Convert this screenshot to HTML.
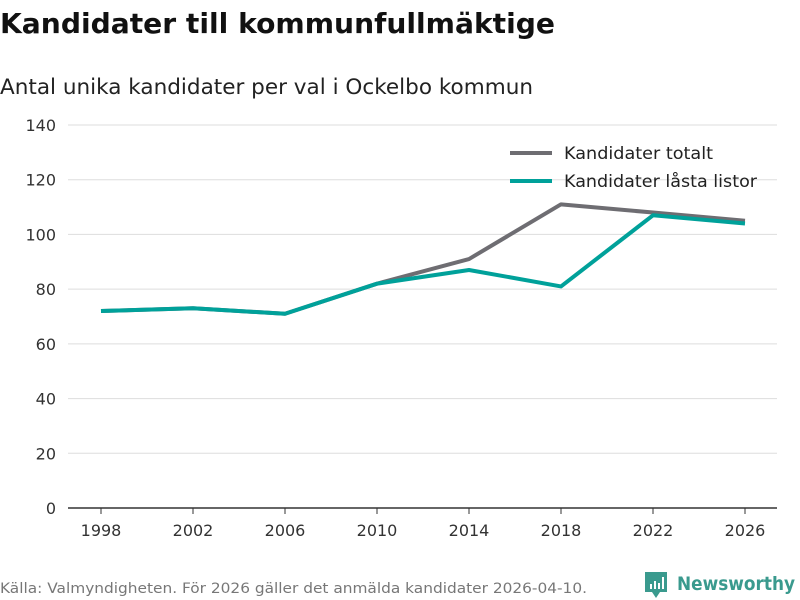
<!DOCTYPE html>
<html><head><meta charset="utf-8"><style>
body{margin:0;background:#fff;}
svg{display:block;font-family:"DejaVu Sans","Liberation Sans",sans-serif;}
</style></head><body>
<svg id="c" width="800" height="600">
<text x="0" y="33" font-size="28" font-weight="bold" fill="#111" textLength="555" lengthAdjust="spacingAndGlyphs">Kandidater till kommunfullmäktige</text>
<text x="0" y="94" font-size="21" fill="#222" textLength="533" lengthAdjust="spacingAndGlyphs">Antal unika kandidater per val i Ockelbo kommun</text>
<g id="grid"></g><g id="lines"></g>
<g>
<line x1="510" y1="153" x2="552" y2="153" stroke="#6e6d72" stroke-width="4"/>
<text x="564" y="159" font-size="17" fill="#222" textLength="149" lengthAdjust="spacingAndGlyphs">Kandidater totalt</text>
<line x1="510" y1="181" x2="552" y2="181" stroke="#00a19a" stroke-width="4"/>
<text x="564" y="187" font-size="17" fill="#222" textLength="193" lengthAdjust="spacingAndGlyphs">Kandidater låsta listor</text>
</g>
<text x="0" y="593" font-size="14" fill="#777" textLength="587" lengthAdjust="spacingAndGlyphs">Källa: Valmyndigheten. För 2026 gäller det anmälda kandidater 2026-04-10.</text>
<g>
<path d="M645 572 h22 v20 h-7 l-4 6 l-4 -6 h-7 z" fill="#3a9a8e"/>
<rect x="650" y="584" width="2" height="5" fill="#fff"/><rect x="654" y="581" width="2" height="8" fill="#fff"/><rect x="658" y="583" width="2" height="6" fill="#fff"/><rect x="662" y="577" width="2" height="12" fill="#fff"/>
<text x="677" y="590" font-size="19" fill="#3a9a8e" font-weight="bold" textLength="118" lengthAdjust="spacingAndGlyphs">Newsworthy</text>
</g>
</svg>
<script>
const years=[1998,2002,2006,2010,2014,2018,2022,2026];
const totalt=[72,73,71,82,91,111,108,105];
const lasta=[72,73,71,82,87,81,107,104];
const yTicks=[0,20,40,60,80,100,120,140];
const NS="http://www.w3.org/2000/svg";
const x=v=>101+(v-1998)*(745-101)/28;
const y=v=>508-v*(508-125)/140;
const grid=document.getElementById('grid'),lines=document.getElementById('lines');
function mk(t,a,p){const e=document.createElementNS(NS,t);for(const k in a)e.setAttribute(k,a[k]);p.appendChild(e);return e;}
yTicks.forEach(t=>{
 const l=mk('line',{x1:68,x2:777,y1:y(t),y2:y(t),stroke:t===0?'#333':'#ddd','stroke-width':t===0?1.5:1},grid);
 
 
 const tx=mk('text',{x:56,y:y(t)+6,'text-anchor':'end','font-size':16,fill:'#333'},grid);tx.textContent=t;
 
 
});
years.forEach(yr=>{
 const tk=mk('line',{x1:x(yr),x2:x(yr),y1:508,y2:514,stroke:'#333'},grid);
 
 
 const tx=mk('text',{x:x(yr),y:536,'text-anchor':'middle','font-size':16,fill:'#333'},grid);tx.textContent=yr;
 
 
});
[[totalt,'#6e6d72','line-totalt'],[lasta,'#00a19a','line-lasta']].forEach(([d,c,n])=>{
 const p=mk('polyline',{points:d.map((v,i)=>x(years[i])+','+y(v)).join(' '),fill:'none',stroke:c,'stroke-width':4,'stroke-linejoin':'round'},lines);
 
 
});
</script>
</body></html>
